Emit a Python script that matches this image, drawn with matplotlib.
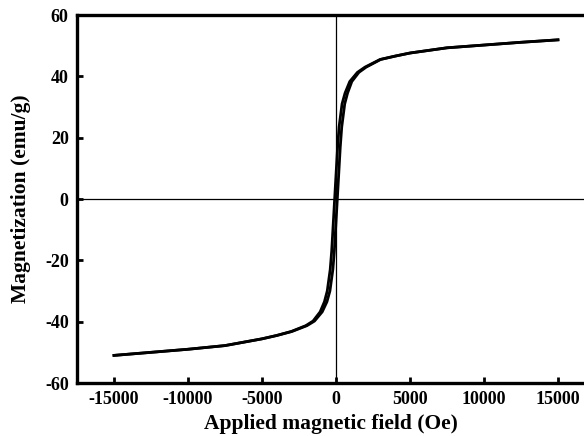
import matplotlib
matplotlib.use("Agg")
import matplotlib.pyplot as plt

# hysteresis loop (Oe, emu/g)
M_vals = [-51.0, -50.0, -49.0, -47.8, -45.6, -44.5, -43.2, -41.3, -39.8, -36.8,
          -33.5, -30.0, -23.0, -17.0, -8.5, 0.0, 8.5, 17.0, 23.5, 31.0,
          34.5, 38.3, 41.3, 43.0, 45.5, 46.6, 47.6, 49.3, 50.2, 51.1, 51.9]
H_ascending = [-15000, -12500, -10000, -7500, -5000, -3990, -2980, -1960, -1450, -930,
               -610, -410, -210, -110, -10, 90, 190, 290, 390, 590,
               780, 1070, 1550, 2040, 3020, 4010, 5000, 7500, 10000, 12500, 15000]
H_descending = [-15000, -12500, -10000, -7500, -5000, -4010, -3020, -2040, -1550, -1070,
                -780, -590, -390, -290, -190, -90, 10, 110, 210, 410,
                610, 930, 1450, 1960, 2980, 3990, 5000, 7500, 10000, 12500, 15000]

x_ticks = [-15000, -10000, -5000, 0, 5000, 10000, 15000]
y_ticks = [-60, -40, -20, 0, 20, 40, 60]

plt.rcParams['font.family'] = ['Liberation Serif', 'DejaVu Serif']
plt.rcParams['font.weight'] = 'bold'
plt.rcParams['axes.unicode_minus'] = False

fig = plt.figure(figsize=(5.84, 4.36), dpi=100)
# the frame runs off the right edge of the picture, as in the reference
ax = fig.add_axes([77/584, 1 - 383/436, (584 - 77)/584, (383 - 15)/436])

ax.axhline(0, color='black', lw=0.9, zorder=1)
ax.axvline(0, color='black', lw=0.9, zorder=1)
ax.plot(H_ascending, M_vals, color='black', lw=2.0, zorder=3)
ax.plot(H_descending, M_vals, color='black', lw=2.0, zorder=3)

ax.set_xlim(-17500, 16760)
ax.set_ylim(-60, 60)
ax.set_xticks(x_ticks)
ax.set_yticks(y_ticks)
ax.set_xticklabels([str(v) for v in x_ticks])
ax.set_yticklabels([str(v) for v in y_ticks])
ax.tick_params(direction='in', length=4, width=2, labelsize=13, pad=6,
               top=False, right=False)
for lab in ax.get_xticklabels() + ax.get_yticklabels():
    lab.set_fontweight('bold')

for side in ['left', 'bottom', 'top']:
    ax.spines[side].set_linewidth(2.4)
ax.spines['right'].set_visible(False)

ax.set_xlabel("Applied magnetic field (Oe)", fontsize=15.5, fontweight='bold', labelpad=4)
ax.set_ylabel("Magnetization (emu/g)", fontsize=15.5, fontweight='bold', labelpad=10)

fig.savefig("out.png", dpi=100)
